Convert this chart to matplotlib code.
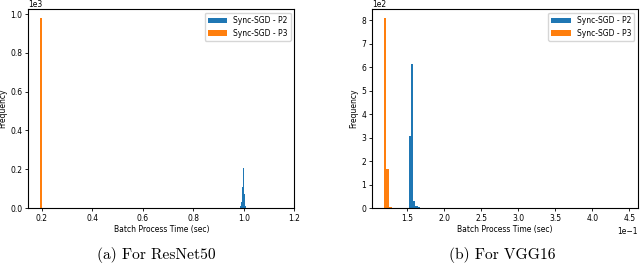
import matplotlib
matplotlib.use('Agg')
import matplotlib.pyplot as plt
import matplotlib.ticker as mticker

# ResNet50 batch process time histograms (bin left edges, bin width, counts)
resnet_p2_bins = [0.984, 0.986, 0.988, 0.990, 0.992, 0.994, 0.996, 0.998, 1.000, 1.002, 1.004, 1.006]
resnet_p2_width = 0.002
resnet_p2_counts = [4, 8, 15, 30, 60, 110, 160, 206, 150, 70, 25, 8]

resnet_p3_bins = [0.193]
resnet_p3_width = 0.007
resnet_p3_counts = [978]

# VGG16 batch process time histograms
vgg_p2_bins = [0.1523, 0.1552, 0.1581, 0.1611, 0.1640, 0.1669, 0.1698, 0.1728]
vgg_p2_width = 0.00293
vgg_p2_counts = [305, 613, 31, 10, 4, 0, 0, 2]

vgg_p3_bins = [0.1185, 0.1221, 0.1257]
vgg_p3_width = 0.0036
vgg_p3_counts = [807, 167, 4]

captions = ['(a) For ResNet50', '(b) For VGG16']
y_offsets = ['1e3', '1e2']

blue = '#1f77b4'
orange = '#ff7f0e'
fs = 5.5

fig = plt.figure(figsize=(6.4, 2.64), dpi=100)
ax1 = fig.add_axes([0.044, 0.212, 0.416, 0.754])
ax2 = fig.add_axes([0.581, 0.212, 0.416, 0.754])


def draw(ax, p2_bins, p2_w, p2_c, p3_bins, p3_w, p3_c, yoff):
    ax.bar(p2_bins, p2_c, width=p2_w, align='edge', color=blue, label='Sync-SGD - P2')
    ax.bar(p3_bins, p3_c, width=p3_w, align='edge', color=orange, label='Sync-SGD - P3')
    ax.set_xlabel('Batch Process Time (sec)', fontsize=fs, labelpad=2)
    ax.set_ylabel('Frequency', fontsize=fs, labelpad=2)
    ax.tick_params(labelsize=fs, length=2.5, pad=1.5, width=0.6)
    ax.legend(loc='upper right', fontsize=fs, handlelength=2.5)
    fmt_y = mticker.ScalarFormatter(useMathText=False)
    fmt_y.set_powerlimits((0, 0))
    ax.yaxis.set_major_formatter(fmt_y)
    # offset text drawn by hand so it sits tight above the axes
    ax.yaxis.get_offset_text().set_visible(False)
    ax.text(0.0, 1.012, yoff, transform=ax.transAxes, fontsize=fs,
            ha='left', va='baseline')


draw(ax1, resnet_p2_bins, resnet_p2_width, resnet_p2_counts,
     resnet_p3_bins, resnet_p3_width, resnet_p3_counts, y_offsets[0])
ax1.set_xlim(0.146, 1.2)
ax1.set_ylim(0, max(resnet_p3_counts) * 1.05)
ax1.set_xticks([0.2, 0.4, 0.6, 0.8, 1.0, 1.2])

draw(ax2, vgg_p2_bins, vgg_p2_width, vgg_p2_counts,
     vgg_p3_bins, vgg_p3_width, vgg_p3_counts, y_offsets[1])
ax2.set_xlim(0.1023, 0.462)
ax2.set_ylim(0, max(vgg_p3_counts) * 1.05)
ax2.set_xticks([0.15, 0.20, 0.25, 0.30, 0.35, 0.40, 0.45])
fmt_x = mticker.ScalarFormatter(useMathText=False)
fmt_x.set_powerlimits((0, 0))
ax2.xaxis.set_major_formatter(fmt_x)
ax2.xaxis.get_offset_text().set_fontsize(fs)

fig.text(0.245, 0.035, captions[0], ha='center', va='center', fontsize=11.2, family='cmr10')
fig.text(0.784, 0.035, captions[1], ha='center', va='center', fontsize=11.2, family='cmr10')

fig.savefig('out.png', dpi=100)
